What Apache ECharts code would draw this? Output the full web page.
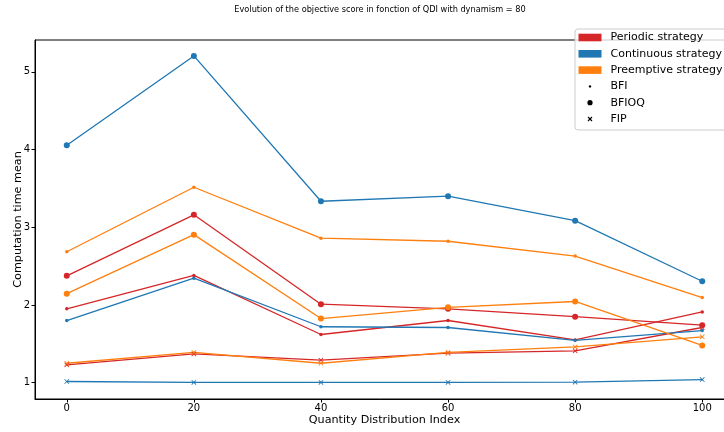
<!DOCTYPE html>
<html>
<head>
<meta charset="utf-8">
<script src="https://cdn.jsdelivr.net/npm/echarts@6/dist/echarts.min.js"></script>
<style>html,body{margin:0;padding:0;background:#fff}#c{width:724px;height:432px}</style>
</head>
<body>
<div id="c"></div>
<script>
const titleText = 'Evolution of the objective score in fonction of QDI with dynamism = 80';
const xLabel = 'Quantity Distribution Index';
const yLabel = 'Computation time mean';
const xValues = [0, 20, 40, 60, 80, 100];
const xTicks = [0, 20, 40, 60, 80, 100];
const yTicks = [1, 2, 3, 4, 5];

const periodicBFI = [1.95, 2.38, 1.62, 1.80, 1.55, 1.91];
const periodicBFIOQ = [2.375, 3.16, 2.01, 1.95, 1.85, 1.74];
const periodicFIP = [1.23, 1.37, 1.29, 1.38, 1.41, 1.71];
const continuousBFI = [1.80, 2.345, 1.72, 1.71, 1.545, 1.67];
const continuousBFIOQ = [4.055, 5.205, 3.335, 3.40, 3.085, 2.305];
const continuousFIP = [1.015, 1.003, 1.003, 1.003, 1.007, 1.04];
const preemptiveBFI = [2.685, 3.515, 2.86, 2.82, 2.63, 2.095];
const preemptiveBFIOQ = [2.145, 2.905, 1.825, 1.97, 2.045, 1.48];
const preemptiveFIP = [1.25, 1.39, 1.25, 1.39, 1.46, 1.59];

const strategies = ['Periodic strategy', 'Continuous strategy', 'Preemptive strategy'];
const methods = ['BFI', 'BFIOQ', 'FIP'];
const colors = ['#d62728', '#1f77b4', '#ff7f0e'];

const xPath = 'path://M0,1.2L1.2,0L5,3.8L8.8,0L10,1.2L6.2,5L10,8.8L8.8,10L5,6.2L1.2,10L0,8.8L3.8,5Z';
const markerSymbol = ['circle', 'circle', xPath];
const markerSize = [3.5, 6, 5];

const table = [
  [periodicBFI, periodicBFIOQ, periodicFIP],
  [continuousBFI, continuousBFIOQ, continuousFIP],
  [preemptiveBFI, preemptiveBFIOQ, preemptiveFIP]
];

const series = [];
table.forEach((rows, si) => {
  rows.forEach((vals, mi) => {
    series.push({
      name: strategies[si] + ' ' + methods[mi],
      type: 'line',
      data: xValues.map((x, i) => [x, vals[i]]),
      symbol: markerSymbol[mi],
      symbolSize: markerSize[mi],
      showSymbol: true,
      lineStyle: { color: colors[si], width: 1.3 },
      itemStyle: { color: colors[si], borderWidth: 0 },
      emphasis: { disabled: true },
      animation: false,
      z: 2
    });
  });
});

const font = 'DejaVu Sans';
const lgX = 575, lgY = 29, rowH = 16.3, row0 = 37.5;
const graphics = [
  { type: 'text', x: 380, y: 10, style: { text: titleText, font: '8.2px "DejaVu Sans"', fill: '#000', align: 'center', verticalAlign: 'middle' } },
  { type: 'rect', shape: { x: lgX, y: lgY, width: 170, height: 101, r: 3 }, style: { fill: 'rgba(255,255,255,0.8)', stroke: '#cccccc', lineWidth: 1 }, z: 10 }
];
strategies.forEach((s, i) => {
  const cy = row0 + i * rowH;
  graphics.push({ type: 'rect', shape: { x: 578.5, y: cy - 3.8, width: 23, height: 7.6 }, style: { fill: colors[i] }, z: 11 });
  graphics.push({ type: 'text', x: 610.5, y: cy, style: { text: s, font: '11px "DejaVu Sans"', fill: '#000', verticalAlign: 'middle' }, z: 11 });
});
methods.forEach((m, i) => {
  const cy = row0 + (i + 3) * rowH;
  if (i === 0) graphics.push({ type: 'circle', shape: { cx: 590, cy: cy, r: 1.2 }, style: { fill: '#000' }, z: 11 });
  if (i === 1) graphics.push({ type: 'circle', shape: { cx: 590, cy: cy, r: 2.6 }, style: { fill: '#000' }, z: 11 });
  if (i === 2) {
    graphics.push({ type: 'line', shape: { x1: 588, y1: cy - 2, x2: 592, y2: cy + 2 }, style: { stroke: '#000', lineWidth: 1.1 }, z: 11 });
    graphics.push({ type: 'line', shape: { x1: 588, y1: cy + 2, x2: 592, y2: cy - 2 }, style: { stroke: '#000', lineWidth: 1.1 }, z: 11 });
  }
  graphics.push({ type: 'text', x: 610.5, y: cy, style: { text: m, font: '11px "DejaVu Sans"', fill: '#000', verticalAlign: 'middle' }, z: 11 });
});

const chart = echarts.init(document.getElementById('c'), null, { renderer: 'canvas' });
chart.setOption({
  animation: false,
  backgroundColor: '#fff',
  textStyle: { fontFamily: font },
  grid: { left: 35, top: 40, width: 699, height: 359, outerBoundsMode: 'none', containLabel: false, show: true, borderColor: '#000', borderWidth: 1, backgroundColor: 'transparent' },
  xAxis: {
    type: 'value', min: -5, max: 105,
    name: xLabel, nameLocation: 'middle', nameGap: 16, nameMoveOverlap: false,
    nameTextStyle: { fontSize: 11.2, color: '#000', fontFamily: font, verticalAlign: 'top' },
    axisLine: { show: true, onZero: false, lineStyle: { color: '#000', width: 1 } },
    axisTick: { show: true, customValues: xTicks, length: 3.5, lineStyle: { color: '#000' } },
    axisLabel: { customValues: xTicks, fontSize: 10, color: '#000', margin: 4, fontFamily: font },
    splitLine: { show: false }
  },
  yAxis: {
    type: 'value', min: 0.79, max: 5.41,
    name: yLabel, nameLocation: 'middle', nameGap: 11, nameRotate: 90, nameMoveOverlap: false,
    nameTextStyle: { fontSize: 11.2, color: '#000', fontFamily: font },
    axisLine: { show: true, onZero: false, lineStyle: { color: '#000', width: 1 } },
    axisTick: { show: true, customValues: yTicks, length: 3.5, lineStyle: { color: '#000' } },
    axisLabel: { customValues: yTicks, fontSize: 10, color: '#000', margin: 5, fontFamily: font },
    splitLine: { show: false }
  },
  series: series,
  graphic: graphics
});
</script>
</body>
</html>
